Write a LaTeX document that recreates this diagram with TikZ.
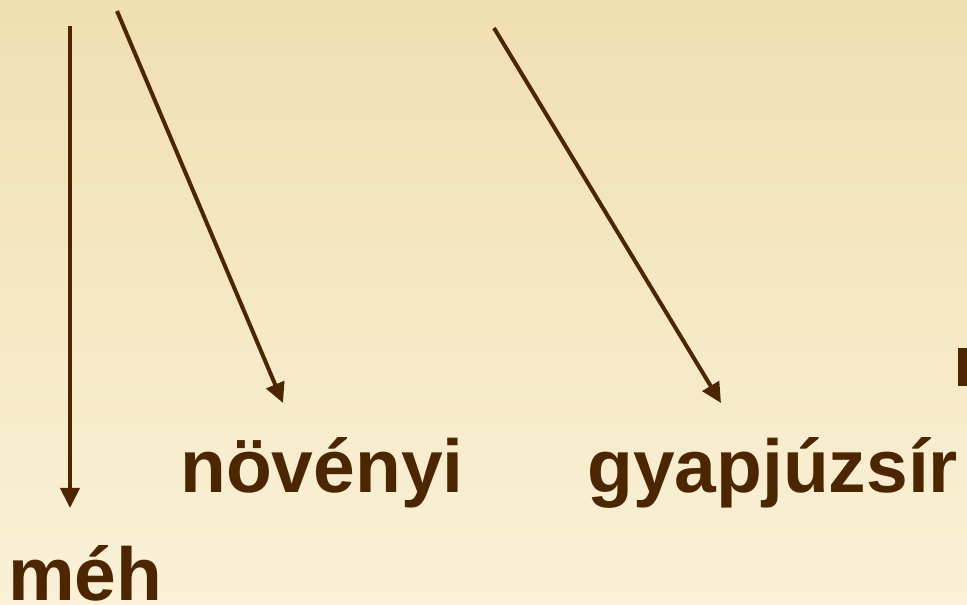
\documentclass[tikz,border=0pt]{standalone}
\usepackage{fontspec}
\setmainfont{Liberation Sans}
\usetikzlibrary{arrows.meta}
\definecolor{ink}{RGB}{76,38,0}
\definecolor{bgtop}{RGB}{240,223,176}
\definecolor{bgbot}{RGB}{250,241,216}
\tikzset{
  word/.style={inner sep=0pt, anchor=base west, text=ink, font=\fontsize{75}{80}\selectfont\bfseries},
  conn/.style={draw=ink, line width=4pt, -{Triangle[length=20pt,width=19pt]}},
}
\begin{document}
\begin{tikzpicture}[x=1pt,y=1pt]
\useasboundingbox (0,0) rectangle (967,605);
\shade[top color=bgtop, bottom color=bgbot] (0,0) rectangle (967,605);
% words (y = 605 - pixel y)
\node[word] (meh) at (8,4) {méh};
\node[word] (noveny) at (180,112) {növényi};
\node[word] (gyap) at (587,112) {gyapjúzsír};
% partially visible letter stem at right edge
\fill[ink] (958,219) rectangle (967,257);
% arrow start points
\coordinate (s1) at (70,579);
\coordinate (s2) at (117,594);
\coordinate (s3) at (494,577);
\coordinate (t1) at (70,97);
\coordinate (t2) at (283,202);
\coordinate (t3) at (721,202);
\draw[conn] (s1) -- (t1);
\draw[conn] (s2) -- (t2);
\draw[conn] (s3) -- (t3);
\end{tikzpicture}
\end{document}
